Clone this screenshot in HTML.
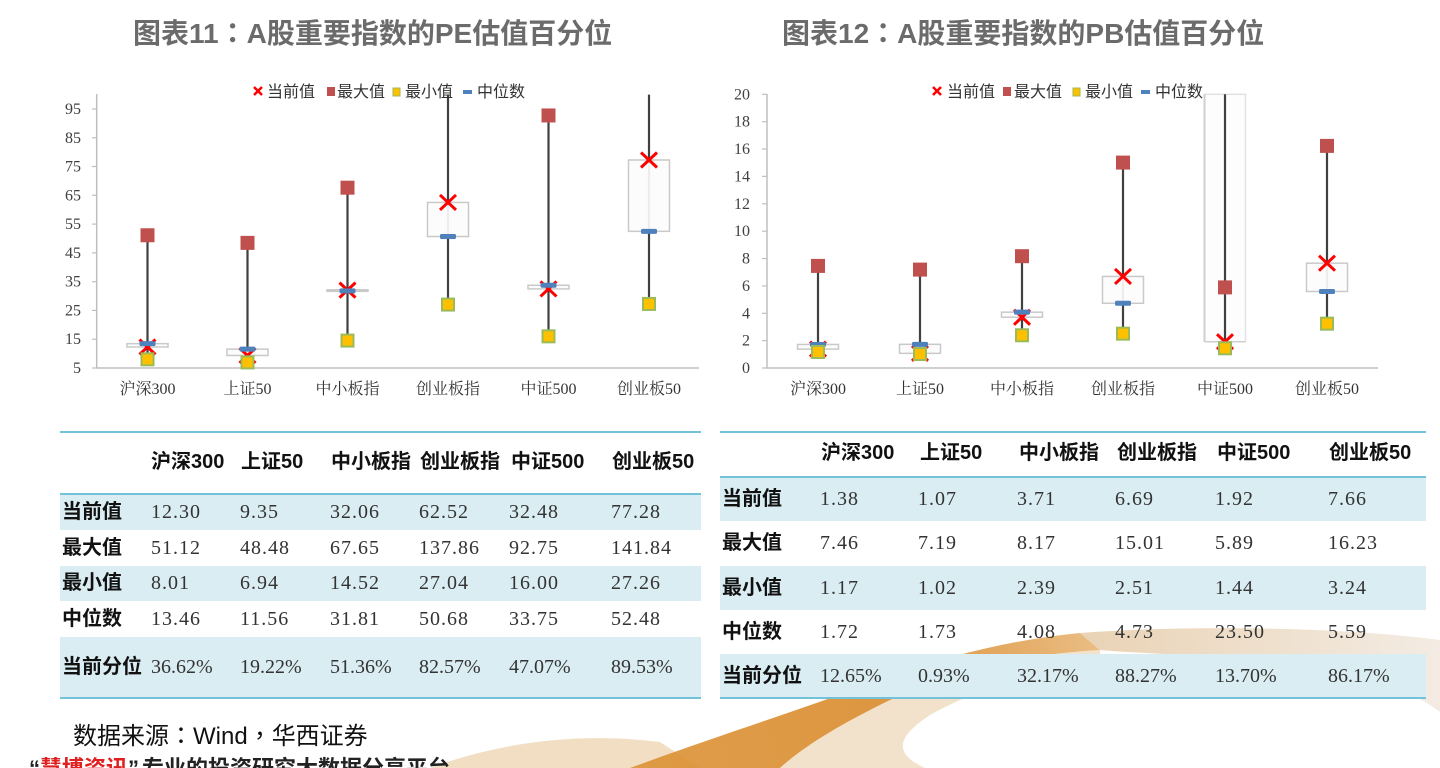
<!DOCTYPE html>
<html><head><meta charset="utf-8">
<style>
html,body{margin:0;padding:0;width:1440px;height:768px;overflow:hidden;background:#fff;position:relative;}
.a{position:absolute;white-space:nowrap;}
.t{font-family:"Liberation Sans","Noto Sans CJK SC",sans-serif;font-weight:bold;color:#6b6b6b;font-size:28px;line-height:36px;}
.h{font-family:"Liberation Sans","Noto Sans CJK SC",sans-serif;font-weight:bold;font-size:20px;color:#111;line-height:28px;}
.lb{font-family:"Liberation Sans","Noto Sans CJK SC",sans-serif;font-weight:bold;font-size:20px;color:#111;line-height:28px;}
.v{font-family:"Liberation Serif","Noto Serif CJK SC",serif;font-size:20px;color:#333;letter-spacing:1px;line-height:28px;}
.p{letter-spacing:0;}
.bl{background:#daedf3;}
.ln{background:#74c1da;height:2px;}
.tc{font-family:"Noto Sans CJK TC",sans-serif;}
</style></head><body>

<!-- decorative ribbon -->
<svg class="a" style="left:0;top:0" width="1440" height="768">
<defs>
<linearGradient id="gA" x1="630" y1="768" x2="1100" y2="633" gradientUnits="userSpaceOnUse">
<stop offset="0" stop-color="#dc9236"/><stop offset="0.6" stop-color="#d98a2b"/><stop offset="1" stop-color="#e8b777"/>
</linearGradient>
<linearGradient id="gC" x1="1080" y1="0" x2="1440" y2="0" gradientUnits="userSpaceOnUse">
<stop offset="0" stop-color="#e6cba8"/><stop offset="1" stop-color="#f1e8de"/>
</linearGradient>
</defs>
<path d="M430 768 C500 742 580 732 660 742 L700 768 Z" fill="#edd1aa" opacity="0.7"/>
<path d="M630 768 C720 735 800 710 880 680 C950 655 1010 640 1080 633 L1100 650 C1020 655 950 670 880 705 C830 730 800 750 780 768 Z" fill="url(#gA)" opacity="0.9"/>
<path d="M780 768 C800 750 830 730 880 705 C950 670 1020 655 1100 650 L1100 668 C1030 672 975 690 930 715 C900 735 890 752 925 768 Z" fill="#f0dcc2" opacity="0.85"/>
<path d="M1080 633 C1200 624 1350 628 1440 640 L1440 712 C1400 682 1330 662 1200 656 C1150 653 1120 652 1100 650 Z" fill="url(#gC)" opacity="0.85"/>
</svg>

<!-- titles -->
<div class="a t" style="left:133px;top:14px;">图表11<span class="tc">：</span>A股重要指数的PE估值百分位</div>
<div class="a t" style="left:782px;top:14px;">图表12<span class="tc">：</span>A股重要指数的PB估值百分位</div>

<!-- LEFT TABLE -->
<div class="a ln" style="left:60px;top:431px;width:641px"></div>
<div class="a h" style="left:151px;top:448px;">沪深300</div>
<div class="a h" style="left:241px;top:448px;">上证50</div>
<div class="a h" style="left:331px;top:448px;">中小板指</div>
<div class="a h" style="left:420px;top:448px;">创业板指</div>
<div class="a h" style="left:511px;top:448px;">中证500</div>
<div class="a h" style="left:612px;top:448px;">创业板50</div>
<div class="a ln" style="left:60px;top:493px;width:641px"></div>
<div class="a bl" style="left:60px;top:495px;width:641px;height:35px"></div>
<div class="a bl" style="left:60px;top:566px;width:641px;height:35px"></div>
<div class="a bl" style="left:60px;top:637px;width:641px;height:60px"></div>
<div class="a ln" style="left:60px;top:697px;width:641px"></div>

<div class="a lb" style="left:62px;top:498px;">当前值</div>
<div class="a v" style="left:151px;top:498px;">12.30</div>
<div class="a v" style="left:240px;top:498px;">9.35</div>
<div class="a v" style="left:330px;top:498px;">32.06</div>
<div class="a v" style="left:419px;top:498px;">62.52</div>
<div class="a v" style="left:509px;top:498px;">32.48</div>
<div class="a v" style="left:611px;top:498px;">77.28</div>

<div class="a lb" style="left:62px;top:534px;">最大值</div>
<div class="a v" style="left:151px;top:534px;">51.12</div>
<div class="a v" style="left:240px;top:534px;">48.48</div>
<div class="a v" style="left:330px;top:534px;">67.65</div>
<div class="a v" style="left:419px;top:534px;">137.86</div>
<div class="a v" style="left:509px;top:534px;">92.75</div>
<div class="a v" style="left:611px;top:534px;">141.84</div>

<div class="a lb" style="left:62px;top:569px;">最小值</div>
<div class="a v" style="left:151px;top:569px;">8.01</div>
<div class="a v" style="left:240px;top:569px;">6.94</div>
<div class="a v" style="left:330px;top:569px;">14.52</div>
<div class="a v" style="left:419px;top:569px;">27.04</div>
<div class="a v" style="left:509px;top:569px;">16.00</div>
<div class="a v" style="left:611px;top:569px;">27.26</div>

<div class="a lb" style="left:62px;top:605px;">中位数</div>
<div class="a v" style="left:151px;top:605px;">13.46</div>
<div class="a v" style="left:240px;top:605px;">11.56</div>
<div class="a v" style="left:330px;top:605px;">31.81</div>
<div class="a v" style="left:419px;top:605px;">50.68</div>
<div class="a v" style="left:509px;top:605px;">33.75</div>
<div class="a v" style="left:611px;top:605px;">52.48</div>

<div class="a lb" style="left:62px;top:653px;">当前分位</div>
<div class="a v p" style="left:151px;top:653px;">36.62%</div>
<div class="a v p" style="left:240px;top:653px;">19.22%</div>
<div class="a v p" style="left:330px;top:653px;">51.36%</div>
<div class="a v p" style="left:419px;top:653px;">82.57%</div>
<div class="a v p" style="left:509px;top:653px;">47.07%</div>
<div class="a v p" style="left:611px;top:653px;">89.53%</div>

<!-- RIGHT TABLE -->
<div class="a ln" style="left:720px;top:431px;width:706px"></div>
<div class="a h" style="left:821px;top:439px;">沪深300</div>
<div class="a h" style="left:920px;top:439px;">上证50</div>
<div class="a h" style="left:1019px;top:439px;">中小板指</div>
<div class="a h" style="left:1117px;top:439px;">创业板指</div>
<div class="a h" style="left:1217px;top:439px;">中证500</div>
<div class="a h" style="left:1329px;top:439px;">创业板50</div>
<div class="a ln" style="left:720px;top:476px;width:706px"></div>
<div class="a bl" style="left:720px;top:478px;width:706px;height:43px"></div>
<div class="a bl" style="left:720px;top:566px;width:706px;height:44px"></div>
<div class="a bl" style="left:720px;top:654px;width:706px;height:43px"></div>
<div class="a ln" style="left:720px;top:697px;width:706px"></div>

<div class="a lb" style="left:722px;top:485px;">当前值</div>
<div class="a v" style="left:820px;top:485px;">1.38</div>
<div class="a v" style="left:918px;top:485px;">1.07</div>
<div class="a v" style="left:1017px;top:485px;">3.71</div>
<div class="a v" style="left:1115px;top:485px;">6.69</div>
<div class="a v" style="left:1215px;top:485px;">1.92</div>
<div class="a v" style="left:1328px;top:485px;">7.66</div>

<div class="a lb" style="left:722px;top:529px;">最大值</div>
<div class="a v" style="left:820px;top:529px;">7.46</div>
<div class="a v" style="left:918px;top:529px;">7.19</div>
<div class="a v" style="left:1017px;top:529px;">8.17</div>
<div class="a v" style="left:1115px;top:529px;">15.01</div>
<div class="a v" style="left:1215px;top:529px;">5.89</div>
<div class="a v" style="left:1328px;top:529px;">16.23</div>

<div class="a lb" style="left:722px;top:574px;">最小值</div>
<div class="a v" style="left:820px;top:574px;">1.17</div>
<div class="a v" style="left:918px;top:574px;">1.02</div>
<div class="a v" style="left:1017px;top:574px;">2.39</div>
<div class="a v" style="left:1115px;top:574px;">2.51</div>
<div class="a v" style="left:1215px;top:574px;">1.44</div>
<div class="a v" style="left:1328px;top:574px;">3.24</div>

<div class="a lb" style="left:722px;top:618px;">中位数</div>
<div class="a v" style="left:820px;top:618px;">1.72</div>
<div class="a v" style="left:918px;top:618px;">1.73</div>
<div class="a v" style="left:1017px;top:618px;">4.08</div>
<div class="a v" style="left:1115px;top:618px;">4.73</div>
<div class="a v" style="left:1215px;top:618px;">23.50</div>
<div class="a v" style="left:1328px;top:618px;">5.59</div>

<div class="a lb" style="left:722px;top:662px;">当前分位</div>
<div class="a v p" style="left:820px;top:662px;">12.65%</div>
<div class="a v p" style="left:918px;top:662px;">0.93%</div>
<div class="a v p" style="left:1017px;top:662px;">32.17%</div>
<div class="a v p" style="left:1115px;top:662px;">88.27%</div>
<div class="a v p" style="left:1215px;top:662px;">13.70%</div>
<div class="a v p" style="left:1328px;top:662px;">86.17%</div>

<!-- source -->
<div class="a" style="left:73px;top:719px;font-family:'Liberation Sans','Noto Sans CJK SC',sans-serif;font-size:24px;line-height:30px;color:#111;">数据来源<span class="tc">：</span>Wind<span class="tc">，</span>华西证券</div>
<div class="a" style="left:29px;top:758px;font-family:'Liberation Sans','Noto Sans CJK SC',sans-serif;font-size:22px;line-height:22px;color:#222;font-weight:bold;">“<span style="color:#e02020">慧博资讯</span>”<span style="margin-left:3px">专业的投资研究大数据分享平台</span></div>

<!-- CHARTS -->
<svg class="a" style="left:0;top:0" width="1440" height="430">
<g font-family="Liberation Sans, Noto Sans CJK SC, sans-serif">
<!-- LEFT CHART axes -->
<line x1="96.7" y1="94" x2="96.7" y2="368" stroke="#bfbfbf" stroke-width="1.5"/>
<line x1="96" y1="368" x2="699" y2="368" stroke="#bfbfbf" stroke-width="1.5"/>
<g stroke="#bfbfbf" stroke-width="1.2">
<line x1="92" y1="368" x2="97" y2="368"/><line x1="92" y1="339.2" x2="97" y2="339.2"/><line x1="92" y1="310.4" x2="97" y2="310.4"/><line x1="92" y1="281.7" x2="97" y2="281.7"/><line x1="92" y1="252.9" x2="97" y2="252.9"/><line x1="92" y1="224.1" x2="97" y2="224.1"/><line x1="92" y1="195.3" x2="97" y2="195.3"/><line x1="92" y1="166.5" x2="97" y2="166.5"/><line x1="92" y1="137.8" x2="97" y2="137.8"/><line x1="92" y1="109" x2="97" y2="109"/>
</g>
<g font-size="16" fill="#404040" text-anchor="end" font-family="Liberation Serif, serif">
<text x="81" y="373">5</text><text x="81" y="344.2">15</text><text x="81" y="315.4">25</text><text x="81" y="286.7">35</text><text x="81" y="257.9">45</text><text x="81" y="229.1">55</text><text x="81" y="200.3">65</text><text x="81" y="171.5">75</text><text x="81" y="142.8">85</text><text x="81" y="114">95</text>
</g>
<g font-size="16" fill="#333" text-anchor="middle" font-family="Liberation Serif, Noto Serif CJK SC, serif">
<text x="147.5" y="394">沪深300</text><text x="247.5" y="394">上证50</text><text x="347.5" y="394">中小板指</text><text x="448" y="394">创业板指</text><text x="548.5" y="394">中证500</text><text x="649" y="394">创业板50</text>
</g>
<!-- whiskers -->
<g stroke="#404040" stroke-width="2.2">
<line x1="147.5" y1="235.27" x2="147.5" y2="359.34"/>
<line x1="247.5" y1="242.87" x2="247.5" y2="362.42"/>
<line x1="347.5" y1="187.69" x2="347.5" y2="340.6"/>
<line x1="448" y1="94.6" x2="448" y2="304.57"/>
<line x1="548.5" y1="115.46" x2="548.5" y2="336.34"/>
<line x1="649" y1="94.6" x2="649" y2="303.94"/>
</g>
<!-- boxes -->
<g fill="#fcfcfc" fill-opacity="0.92" stroke="#c9c9c9" stroke-width="1.5">
<rect x="127" y="343.65" width="41" height="3.34"/>
<rect x="227" y="349.12" width="41" height="6.36"/>
<rect x="327" y="289.8" width="41" height="1.5"/>
<rect x="427.5" y="202.46" width="41" height="34.07"/>
<rect x="528" y="285.26" width="41" height="3.65"/>
<rect x="628.5" y="159.98" width="41" height="71.37"/>
</g>
<!-- current x -->
<g stroke="#ff0000" stroke-width="3">
<path d="M139.5 339.5L155.5 354.5M155.5 339.5L139.5 354.5"/>
<path d="M239.5 347.98L255.5 362.98M255.5 347.98L239.5 362.98"/>
<path d="M339.5 282.62L355.5 297.62M355.5 282.62L339.5 297.62"/>
<path d="M440 194.96L456 209.96M456 194.96L440 209.96"/>
<path d="M540.5 281.41L556.5 296.41M556.5 281.41L540.5 296.41"/>
<path d="M641 152.48L657 167.48M657 152.48L641 167.48"/>
</g>
<!-- max -->
<g fill="#c0504d">
<rect x="140.5" y="228.27" width="14" height="14"/>
<rect x="240.5" y="235.87" width="14" height="14"/>
<rect x="340.5" y="180.69" width="14" height="14"/>
<rect x="541.5" y="108.46" width="14" height="14"/>
</g>
<!-- median -->
<g fill="#4f81bd">
<rect x="139.5" y="341.15" width="16" height="5" rx="1.5"/>
<rect x="239.5" y="346.62" width="16" height="5" rx="1.5"/>
<rect x="339.5" y="288.34" width="16" height="5" rx="1.5"/>
<rect x="440" y="234.03" width="16" height="5" rx="1.5"/>
<rect x="540.5" y="282.76" width="16" height="5" rx="1.5"/>
<rect x="641" y="228.85" width="16" height="5" rx="1.5"/>
</g>
<!-- min -->
<g fill="#ffc000" stroke="#9bbb59" stroke-width="2">
<rect x="141.5" y="353.34" width="12" height="12"/>
<rect x="241.5" y="356.42" width="12" height="12"/>
<rect x="341.5" y="334.6" width="12" height="12"/>
<rect x="442" y="298.57" width="12" height="12"/>
<rect x="542.5" y="330.34" width="12" height="12"/>
<rect x="643" y="297.94" width="12" height="12"/>
</g>
<!-- left legend -->
<path d="M254 87L262 95M262 87L254 95" stroke="#ff0000" stroke-width="2.5"/>
<rect x="327" y="87" width="8" height="9" fill="#c0504d"/>
<rect x="393" y="88" width="7" height="8" fill="#ffc000" stroke="#9bbb59" stroke-width="1"/>
<rect x="463" y="90" width="9" height="4" fill="#4f81bd"/>
<g font-size="16" fill="#333">
<text x="267" y="97">当前值</text><text x="337" y="97">最大值</text><text x="405" y="97">最小值</text><text x="477" y="97">中位数</text>
</g>

<!-- RIGHT CHART axes -->
<line x1="767" y1="94" x2="767" y2="368" stroke="#bfbfbf" stroke-width="1.5"/>
<line x1="766" y1="368" x2="1378" y2="368" stroke="#bfbfbf" stroke-width="1.5"/>
<g stroke="#bfbfbf" stroke-width="1.2">
<line x1="762" y1="368" x2="767" y2="368"/><line x1="762" y1="340.6" x2="767" y2="340.6"/><line x1="762" y1="313.3" x2="767" y2="313.3"/><line x1="762" y1="285.9" x2="767" y2="285.9"/><line x1="762" y1="258.5" x2="767" y2="258.5"/><line x1="762" y1="231.2" x2="767" y2="231.2"/><line x1="762" y1="203.8" x2="767" y2="203.8"/><line x1="762" y1="176.4" x2="767" y2="176.4"/><line x1="762" y1="149" x2="767" y2="149"/><line x1="762" y1="121.7" x2="767" y2="121.7"/><line x1="762" y1="94.3" x2="767" y2="94.3"/>
</g>
<g font-size="16" fill="#404040" text-anchor="end" font-family="Liberation Serif, serif">
<text x="750" y="373">0</text><text x="750" y="345.6">2</text><text x="750" y="318.3">4</text><text x="750" y="290.9">6</text><text x="750" y="263.5">8</text><text x="750" y="236.2">10</text><text x="750" y="208.8">12</text><text x="750" y="181.4">14</text><text x="750" y="154">16</text><text x="750" y="126.7">18</text><text x="750" y="99.3">20</text>
</g>
<g font-size="16" fill="#333" text-anchor="middle" font-family="Liberation Serif, Noto Serif CJK SC, serif">
<text x="818" y="394">沪深300</text><text x="920" y="394">上证50</text><text x="1022" y="394">中小板指</text><text x="1123" y="394">创业板指</text><text x="1225" y="394">中证500</text><text x="1327" y="394">创业板50</text>
</g>
<g stroke="#404040" stroke-width="2.2">
<line x1="818" y1="265.91" x2="818" y2="351.99"/>
<line x1="920" y1="269.6" x2="920" y2="354.04"/>
<line x1="1022" y1="256.19" x2="1022" y2="335.29"/>
<line x1="1123" y1="162.59" x2="1123" y2="333.65"/>
<line x1="1327" y1="145.89" x2="1327" y2="323.66"/>
</g>
<g fill="#fcfcfc" fill-opacity="0.92" stroke="#c9c9c9" stroke-width="1.5">
<rect x="797.5" y="344.46" width="41" height="4.65"/>
<rect x="899.5" y="344.33" width="41" height="9.03"/>
<rect x="1001.5" y="312.17" width="41" height="5.06"/>
<rect x="1102.5" y="276.45" width="41" height="26.82"/>
<rect x="1306.5" y="263.17" width="41" height="28.33"/>
</g>
<rect x="1204.5" y="94.3" width="41" height="247.43" fill="#fcfcfc" fill-opacity="0.6" stroke="#e2e2e2" stroke-width="1.5"/>
<line x1="1204.5" y1="94.3" x2="1204.5" y2="341.73" stroke="#cfcfcf" stroke-width="2"/>
<line x1="1204.5" y1="341.73" x2="1245.5" y2="341.73" stroke="#cfcfcf" stroke-width="1.5"/>
<line x1="1225" y1="94.3" x2="1225" y2="348.29" stroke="#404040" stroke-width="2.2"/>
<g stroke="#ff0000" stroke-width="3">
<path d="M810 341.61L826 356.61M826 341.61L810 356.61"/>
<path d="M912 345.86L928 360.86M928 345.86L912 360.86"/>
<path d="M1014 309.73L1030 324.73M1030 309.73L1014 324.73"/>
<path d="M1115 268.95L1131 283.95M1131 268.95L1115 283.95"/>
<path d="M1217 334.23L1233 349.23M1233 334.23L1217 349.23"/>
<path d="M1319 255.67L1335 270.67M1335 255.67L1319 270.67"/>
</g>
<g fill="#c0504d">
<rect x="811" y="258.91" width="14" height="14"/>
<rect x="913" y="262.6" width="14" height="14"/>
<rect x="1015" y="249.19" width="14" height="14"/>
<rect x="1116" y="155.59" width="14" height="14"/>
<rect x="1218" y="280.39" width="14" height="14"/>
<rect x="1320" y="138.89" width="14" height="14"/>
</g>
<g fill="#4f81bd">
<rect x="810" y="341.96" width="16" height="5" rx="1.5"/>
<rect x="912" y="341.83" width="16" height="5" rx="1.5"/>
<rect x="1014" y="309.67" width="16" height="5" rx="1.5"/>
<rect x="1115" y="300.77" width="16" height="5" rx="1.5"/>
<rect x="1319" y="289" width="16" height="5" rx="1.5"/>
</g>
<g fill="#ffc000" stroke="#9bbb59" stroke-width="2">
<rect x="812" y="345.99" width="12" height="12"/>
<rect x="914" y="348.04" width="12" height="12"/>
<rect x="1016" y="329.29" width="12" height="12"/>
<rect x="1117" y="327.65" width="12" height="12"/>
<rect x="1219" y="342.29" width="12" height="12"/>
<rect x="1321" y="317.66" width="12" height="12"/>
</g>
<!-- right legend -->
<path d="M933 87L941 95M941 87L933 95" stroke="#ff0000" stroke-width="2.5"/>
<rect x="1003" y="87" width="8" height="9" fill="#c0504d"/>
<rect x="1073" y="88" width="7" height="8" fill="#ffc000" stroke="#9bbb59" stroke-width="1"/>
<rect x="1141" y="90" width="9" height="4" fill="#4f81bd"/>
<g font-size="16" fill="#333">
<text x="947" y="97">当前值</text><text x="1014" y="97">最大值</text><text x="1085" y="97">最小值</text><text x="1155" y="97">中位数</text>
</g>
</g>
</svg>
</body></html>
